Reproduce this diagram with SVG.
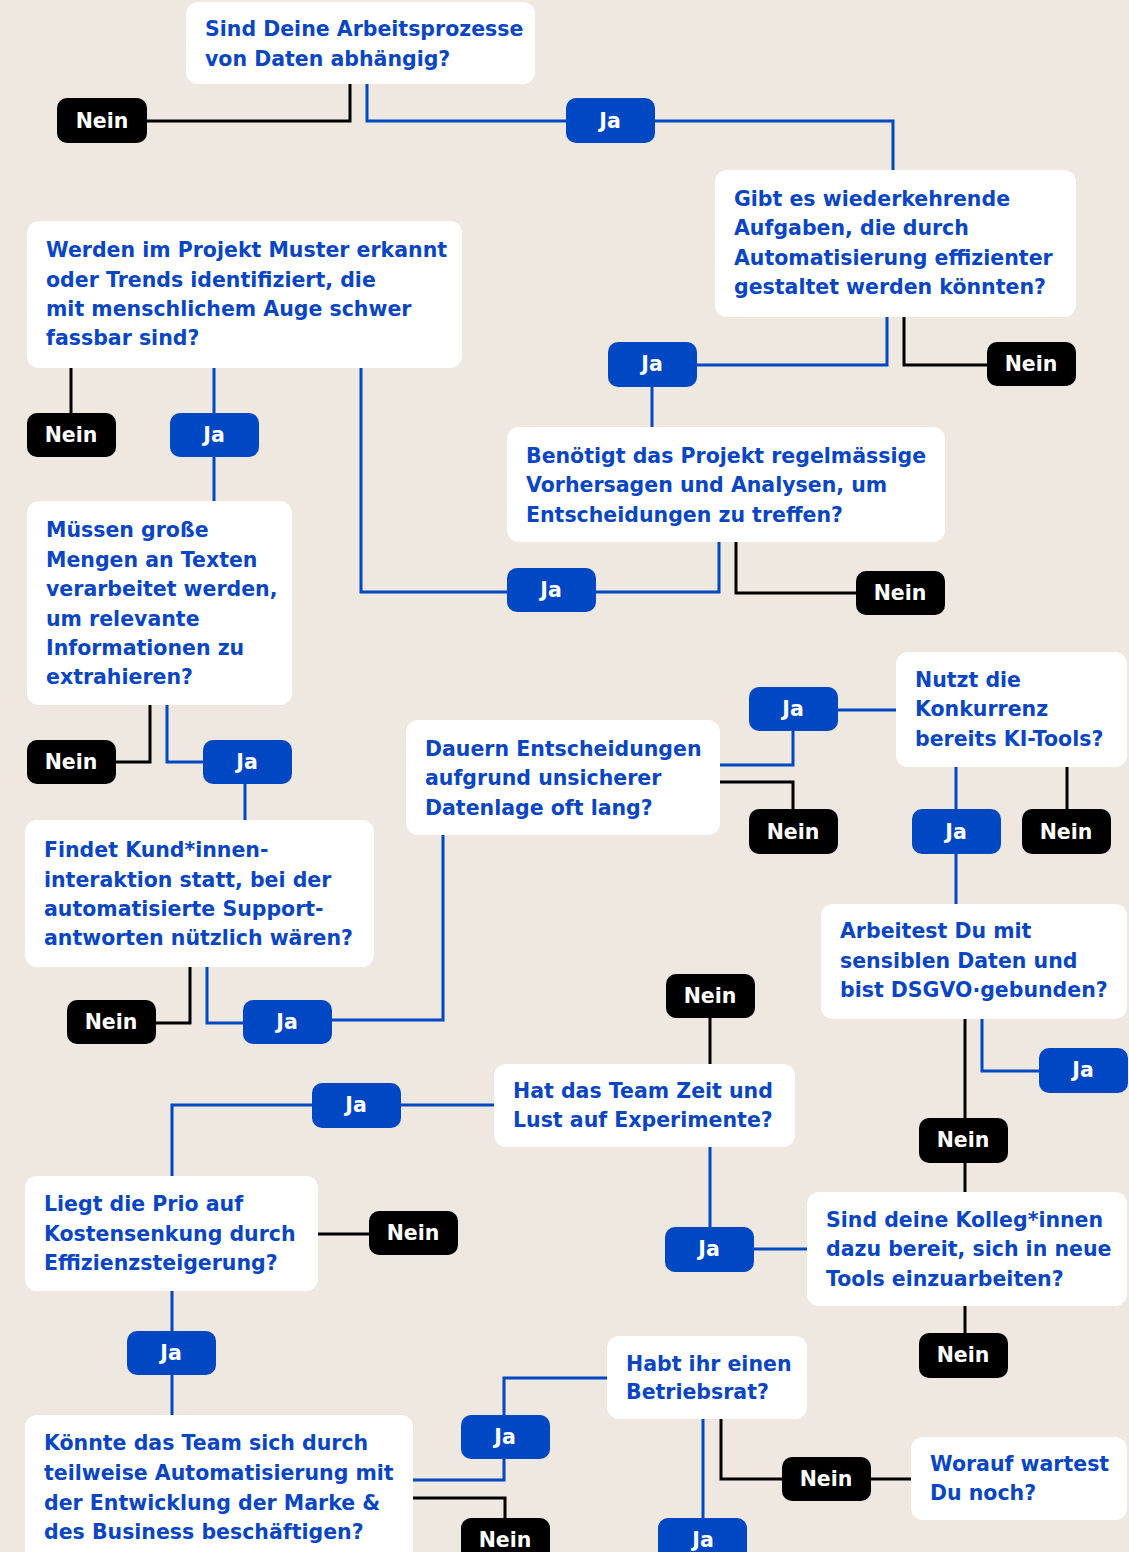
<svg xmlns="http://www.w3.org/2000/svg" width="1129" height="1552" viewBox="0 0 1129 1552">
<style>
.bg{fill:#EFE8E1}
.q rect{fill:#FFFFFF}
.q text{font-family:"DejaVu Sans","Liberation Sans",Arial,sans-serif;font-weight:bold;font-size:20.5px;fill:#0A46C4}
.ja rect{fill:#0047C4}
.nein rect{fill:#000000}
.ja text,.nein text{font-family:"DejaVu Sans","Liberation Sans",Arial,sans-serif;font-weight:bold;font-size:20.5px;fill:#FFFFFF;text-anchor:middle}
.cb{fill:none;stroke:#0047C4;stroke-width:3}
.ck{fill:none;stroke:#000000;stroke-width:3}
</style>
<rect class="bg" x="0" y="0" width="1129" height="1552"/>

<g id="connectors">
  <path class="ck" d="M350,84 V121 H147"/>
  <path class="cb" d="M367,84 V121 H566"/>
  <path class="cb" d="M655,121 H893 V170"/>
  <path class="cb" d="M887,317 V365 H697"/>
  <path class="ck" d="M904,317 V365 H987"/>
  <path class="cb" d="M652,387 V427"/>
  <path class="cb" d="M719,542 V592 H596"/>
  <path class="cb" d="M507,592 H361 V368"/>
  <path class="ck" d="M736,542 V593 H856"/>
  <path class="ck" d="M71,368 V413"/>
  <path class="cb" d="M214,368 V413"/>
  <path class="cb" d="M214,457 V501"/>
  <path class="ck" d="M150,705 V762 H116"/>
  <path class="cb" d="M167,705 V762 H203"/>
  <path class="cb" d="M245,784 V820"/>
  <path class="ck" d="M190,967 V1023 H156"/>
  <path class="cb" d="M207,967 V1023 H243"/>
  <path class="cb" d="M332,1020 H443 V835"/>
  <path class="cb" d="M720,765 H793 V731"/>
  <path class="cb" d="M838,710 H896"/>
  <path class="ck" d="M720,782 H793 V809"/>
  <path class="cb" d="M956,767 V809"/>
  <path class="ck" d="M1067,767 V809"/>
  <path class="cb" d="M956,854 V904"/>
  <path class="cb" d="M982,1019 V1071 H1039"/>
  <path class="ck" d="M965,1019 V1118"/>
  <path class="ck" d="M965,1163 V1192"/>
  <path class="ck" d="M965,1306 V1333"/>
  <path class="cb" d="M807,1249 H754"/>
  <path class="cb" d="M710,1227 V1147"/>
  <path class="ck" d="M710,1064 V1018"/>
  <path class="cb" d="M494,1105 H401"/>
  <path class="cb" d="M312,1105 H172 V1176"/>
  <path class="ck" d="M318,1234 H369"/>
  <path class="cb" d="M172,1291 V1331"/>
  <path class="cb" d="M172,1375 V1415"/>
  <path class="cb" d="M413,1480 H504 V1459"/>
  <path class="cb" d="M504,1415 V1378 H607"/>
  <path class="ck" d="M413,1498 H505 V1518"/>
  <path class="cb" d="M703,1419 V1518"/>
  <path class="ck" d="M721,1419 V1479 H782"/>
  <path class="ck" d="M871,1479 H911"/>
</g>

<g id="q1" class="q"><rect x="186" y="2" width="349" height="82" rx="12"/>
<text x="205" y="36">Sind Deine Arbeitsprozesse</text><text x="205" y="66">von Daten abhängig?</text></g>
<g id="q2" class="q"><rect x="715" y="170" width="361" height="147" rx="12"/>
<text x="734" y="206">Gibt es wiederkehrende</text><text x="734" y="235">Aufgaben, die durch</text><text x="734" y="265">Automatisierung effizienter</text><text x="734" y="294">gestaltet werden könnten?</text></g>
<g id="q3" class="q"><rect x="507" y="427" width="438" height="115" rx="12"/>
<text x="526" y="463">Benötigt das Projekt regelmässige</text><text x="526" y="492">Vorhersagen und Analysen, um</text><text x="526" y="522">Entscheidungen zu treffen?</text></g>
<g id="q4" class="q"><rect x="27" y="221" width="435" height="147" rx="12"/>
<text x="46" y="257">Werden im Projekt Muster erkannt</text><text x="46" y="287">oder Trends identifiziert, die</text><text x="46" y="316">mit menschlichem Auge schwer</text><text x="46" y="345">fassbar sind?</text></g>
<g id="q5" class="q"><rect x="27" y="501" width="265" height="204" rx="12"/>
<text x="46" y="537">Müssen große</text><text x="46" y="567">Mengen an Texten</text><text x="46" y="596">verarbeitet werden,</text><text x="46" y="626">um relevante</text><text x="46" y="655">Informationen zu</text><text x="46" y="684">extrahieren?</text></g>
<g id="q6" class="q"><rect x="25" y="820" width="349" height="147" rx="12"/>
<text x="44" y="857">Findet Kund*innen-</text><text x="44" y="887">interaktion statt, bei der</text><text x="44" y="916">automatisierte Support-</text><text x="44" y="945">antworten nützlich wären?</text></g>
<g id="q7" class="q"><rect x="406" y="720" width="314" height="115" rx="12"/>
<text x="425" y="756">Dauern Entscheidungen</text><text x="425" y="785">aufgrund unsicherer</text><text x="425" y="815">Datenlage oft lang?</text></g>
<g id="q8" class="q"><rect x="896" y="652" width="231" height="115" rx="12"/>
<text x="915" y="687">Nutzt die</text><text x="915" y="716">Konkurrenz</text><text x="915" y="746">bereits KI-Tools?</text></g>
<g id="q9" class="q"><rect x="821" y="904" width="306" height="115" rx="12"/>
<text x="840" y="938">Arbeitest Du mit</text><text x="840" y="968">sensiblen Daten und</text><text x="840" y="997">bist DSGVO·gebunden?</text></g>
<g id="q10" class="q"><rect x="807" y="1192" width="320" height="114" rx="12"/>
<text x="826" y="1227">Sind deine Kolleg*innen</text><text x="826" y="1256">dazu bereit, sich in neue</text><text x="826" y="1286">Tools einzuarbeiten?</text></g>
<g id="q11" class="q"><rect x="494" y="1064" width="301" height="83" rx="12"/>
<text x="513" y="1098">Hat das Team Zeit und</text><text x="513" y="1127">Lust auf Experimente?</text></g>
<g id="q12" class="q"><rect x="25" y="1176" width="293" height="115" rx="12"/>
<text x="44" y="1211">Liegt die Prio auf</text><text x="44" y="1241">Kostensenkung durch</text><text x="44" y="1270">Effizienzsteigerung?</text></g>
<g id="q13" class="q"><rect x="25" y="1415" width="388" height="150" rx="12"/>
<text x="44" y="1450">Könnte das Team sich durch</text><text x="44" y="1480">teilweise Automatisierung mit</text><text x="44" y="1510">der Entwicklung der Marke &amp;</text><text x="44" y="1539">des Business beschäftigen?</text></g>
<g id="q14" class="q"><rect x="607" y="1336" width="200" height="83" rx="12"/>
<text x="626" y="1371">Habt ihr einen</text><text x="626" y="1399">Betriebsrat?</text></g>
<g id="q15" class="q"><rect x="911" y="1437" width="216" height="83" rx="12"/>
<text x="930" y="1471">Worauf wartest</text><text x="930" y="1500">Du noch?</text></g>

<g id="nein1" class="nein"><rect x="57" y="98" width="90" height="45" rx="10"/><text x="102" y="128">Nein</text></g>
<g id="ja1" class="ja"><rect x="566" y="98" width="89" height="45" rx="10"/><text x="610" y="128">Ja</text></g>
<g id="ja2" class="ja"><rect x="608" y="342" width="89" height="45" rx="10"/><text x="652" y="371">Ja</text></g>
<g id="nein2" class="nein"><rect x="987" y="342" width="89" height="44" rx="10"/><text x="1031" y="371">Nein</text></g>
<g id="ja3" class="ja"><rect x="507" y="568" width="89" height="44" rx="10"/><text x="551" y="597">Ja</text></g>
<g id="nein3" class="nein"><rect x="856" y="571" width="89" height="44" rx="10"/><text x="900" y="600">Nein</text></g>
<g id="nein4" class="nein"><rect x="27" y="413" width="89" height="44" rx="10"/><text x="71" y="442">Nein</text></g>
<g id="ja4" class="ja"><rect x="170" y="413" width="89" height="44" rx="10"/><text x="214" y="442">Ja</text></g>
<g id="nein5" class="nein"><rect x="27" y="740" width="89" height="44" rx="10"/><text x="71" y="769">Nein</text></g>
<g id="ja5" class="ja"><rect x="203" y="740" width="89" height="44" rx="10"/><text x="247" y="769">Ja</text></g>
<g id="nein6" class="nein"><rect x="67" y="1000" width="89" height="44" rx="10"/><text x="111" y="1029">Nein</text></g>
<g id="ja6" class="ja"><rect x="243" y="1000" width="89" height="44" rx="10"/><text x="287" y="1029">Ja</text></g>
<g id="ja7" class="ja"><rect x="749" y="687" width="89" height="44" rx="10"/><text x="793" y="716">Ja</text></g>
<g id="nein7" class="nein"><rect x="749" y="809" width="89" height="45" rx="10"/><text x="793" y="839">Nein</text></g>
<g id="ja8" class="ja"><rect x="912" y="809" width="89" height="45" rx="10"/><text x="956" y="839">Ja</text></g>
<g id="nein8" class="nein"><rect x="1022" y="809" width="89" height="45" rx="10"/><text x="1066" y="839">Nein</text></g>
<g id="ja9" class="ja"><rect x="1039" y="1048" width="89" height="45" rx="10"/><text x="1083" y="1077">Ja</text></g>
<g id="nein9" class="nein"><rect x="919" y="1118" width="89" height="45" rx="10"/><text x="963" y="1147">Nein</text></g>
<g id="nein10" class="nein"><rect x="919" y="1333" width="89" height="45" rx="10"/><text x="963" y="1362">Nein</text></g>
<g id="ja10" class="ja"><rect x="665" y="1227" width="89" height="45" rx="10"/><text x="709" y="1256">Ja</text></g>
<g id="nein11" class="nein"><rect x="666" y="974" width="89" height="44" rx="10"/><text x="710" y="1003">Nein</text></g>
<g id="ja11" class="ja"><rect x="312" y="1083" width="89" height="45" rx="10"/><text x="356" y="1112">Ja</text></g>
<g id="nein12" class="nein"><rect x="369" y="1211" width="89" height="44" rx="10"/><text x="413" y="1240">Nein</text></g>
<g id="ja12" class="ja"><rect x="127" y="1331" width="89" height="44" rx="10"/><text x="171" y="1360">Ja</text></g>
<g id="ja13" class="ja"><rect x="461" y="1415" width="89" height="44" rx="10"/><text x="505" y="1444">Ja</text></g>
<g id="nein13" class="nein"><rect x="461" y="1518" width="89" height="50" rx="10"/><text x="505" y="1547">Nein</text></g>
<g id="ja14" class="ja"><rect x="658" y="1518" width="89" height="50" rx="10"/><text x="703" y="1547">Ja</text></g>
<g id="nein14" class="nein"><rect x="782" y="1457" width="89" height="44" rx="10"/><text x="826" y="1486">Nein</text></g>
</svg>
